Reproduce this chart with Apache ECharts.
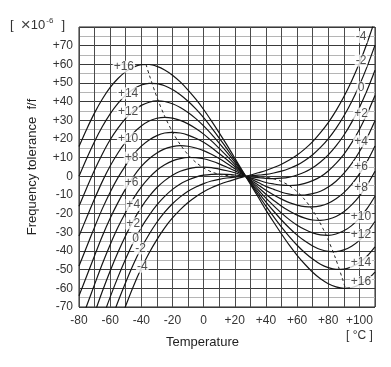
<!DOCTYPE html>
<html><head><meta charset="utf-8">
<script src="https://cdn.jsdelivr.net/npm/echarts@6/dist/echarts.min.js"></script>
<style>html,body{margin:0;padding:0;background:#fff}#c{width:391px;height:367px}</style>
</head><body><div id="c"></div>
<script>
// Temperature samples (°C), every 5 °C from -80 to +110
const temps = [-80,-75,-70,-65,-60,-55,-50,-45,-40,-35,-30,-25,-20,-15,-10,-5,0,5,10,15,20,25,30,35,40,45,50,55,60,65,70,75,80,85,90,95,100,105,110];

// Frequency tolerance (x10^-6) for each curve
const curveM4  = [-145.9,-133.2,-119.6,-105.9,-92.8,-80.6,-69.3,-58.7,-49.3,-41.1,-33.9,-27.6,-22.3,-17.8,-14.0,-10.9,-8.3,-6.1,-4.4,-2.9,-1.6,-0.4,0.7,1.9,3.1,4.7,6.5,8.7,11.4,14.7,18.6,23.4,28.8,35.2,42.6,51.1,60.7,71.6,83.8];
const curveM2  = [-129.4,-117.2,-104.1,-91.1,-78.7,-67.2,-56.7,-46.9,-38.4,-31.0,-24.6,-19.2,-14.7,-11.0,-8.0,-5.7,-3.9,-2.5,-1.6,-0.9,-0.4,-0.1,0.2,0.6,1.0,1.8,2.8,4.2,6.0,8.5,11.6,15.5,20.1,25.7,32.3,40.0,48.8,58.9,70.3];
const curve0   = [-113.0,-101.2,-88.7,-76.3,-64.7,-54.0,-44.2,-35.2,-27.4,-20.9,-15.3,-10.7,-7.0,-4.1,-2.0,-0.4,0.6,1.1,1.2,1.0,0.7,0.2,-0.3,-0.7,-1.1,-1.2,-1.0,-0.4,0.7,2.3,4.6,7.7,11.5,16.3,22.0,28.9,36.9,46.2,56.8];
const curveP2  = [-96.6,-85.3,-73.3,-61.6,-50.7,-40.7,-31.7,-23.5,-16.6,-10.8,-6.0,-2.3,0.6,2.7,4.0,4.8,4.9,4.7,3.9,3.0,1.9,0.5,-0.8,-2.0,-3.3,-4.1,-4.7,-4.9,-4.7,-3.8,-2.3,-0.2,2.9,6.9,11.8,17.9,25.1,33.6,43.3];
const curveP4  = [-80.2,-69.2,-57.9,-46.8,-36.6,-27.3,-19.2,-11.8,-5.7,-0.7,3.3,6.2,8.3,9.5,10.1,10.0,9.4,8.2,6.7,4.9,3.0,0.9,-1.3,-3.3,-5.4,-7.0,-8.5,-9.5,-10.1,-10.0,-9.3,-8.0,-5.7,-2.6,1.6,6.8,13.2,20.8,29.8];
const curveP6  = [-64.0,-53.3,-42.5,-32.0,-22.5,-14.1,-6.6,-0.1,5.3,9.4,12.5,14.7,15.9,16.4,16.1,15.2,13.8,11.8,9.5,6.9,4.1,1.2,-1.8,-4.6,-7.5,-10.0,-12.2,-14.1,-15.4,-16.2,-16.4,-15.8,-14.4,-12.0,-8.7,-4.3,1.3,8.1,16.3];
const curveP8  = [-48.0,-37.6,-27.2,-17.3,-8.5,-0.7,5.9,11.7,16.2,19.5,21.8,23.2,23.6,23.2,22.1,20.4,18.2,15.4,12.2,8.9,5.3,1.5,-2.3,-5.9,-9.6,-12.9,-16.0,-18.6,-20.8,-22.4,-23.4,-23.6,-23.0,-21.5,-19.0,-15.3,-10.6,-4.6,2.7];
const curveP10 = [-32.0,-21.9,-12.0,-2.7,5.5,12.5,18.4,23.3,27.0,29.6,31.1,31.6,31.2,30.0,28.1,25.6,22.6,19.0,15.0,10.8,6.4,1.8,-2.8,-7.2,-11.7,-15.8,-19.7,-23.2,-26.2,-28.5,-30.3,-31.4,-31.6,-30.9,-29.2,-26.4,-22.4,-17.2,-10.7];
const curveP12 = [-16.0,-6.1,3.4,12.0,19.6,25.8,31.0,35.1,38.0,39.7,40.4,40.1,38.9,36.9,34.2,30.9,27.0,22.6,17.8,12.8,7.6,2.2,-3.2,-8.5,-13.8,-18.7,-23.4,-27.7,-31.5,-34.7,-37.3,-39.2,-40.2,-40.3,-39.4,-37.4,-34.3,-29.9,-24.2];
const curveP14 = [0.0,9.7,18.7,26.7,33.5,39.1,43.5,46.8,48.9,49.8,49.7,48.5,46.5,43.7,40.2,36.1,31.4,26.1,20.5,14.7,8.7,2.5,-3.7,-9.8,-16.0,-21.7,-27.2,-32.3,-36.9,-40.9,-44.3,-47.1,-48.9,-49.8,-49.7,-48.5,-46.2,-42.7,-37.8];
const curveP16 = [16.0,25.4,34.0,41.4,47.6,52.4,56.1,58.5,59.8,59.9,58.9,57.0,54.2,50.6,46.2,41.3,35.8,29.7,23.3,16.7,9.8,2.8,-4.2,-11.1,-18.1,-24.6,-30.9,-36.9,-42.3,-47.1,-51.4,-54.9,-57.5,-59.2,-60.0,-59.6,-58.1,-55.4,-51.3];

// Dashed locus of turning points
const extremaT = [-37,-35,-30,-25,-20,-15,-10,-5,0,5,10,15,20,27,34,39,44,49,54,59,64,69,74,79,84,89,91];
const extremaV = [60.0,54.6,42.4,32.2,23.8,17.0,11.6,7.5,4.5,2.4,1.1,0.4,0.1,0,-0.1,-0.4,-1.1,-2.4,-4.5,-7.5,-11.6,-17.0,-23.8,-32.2,-42.4,-54.6,-60.0];

// Curve labels
const curveNames = ['-4','-2','0','+2','+4','+6','+8','+10','+12','+14','+16'];
const curveData  = [curveM4,curveM2,curve0,curveP2,curveP4,curveP6,curveP8,curveP10,curveP12,curveP14,curveP16];

// Label anchors (data units)
const leftLabelT  = [-39.4,-40.5,-43.7,-45.2,-45.2,-46.3,-46.3,-48.5,-48.5,-48.5,-51.2];
const leftLabelV  = [-48.4,-38.6,-33.2,-25.2,-15.4,-3.4,10.0,20.4,34.6,44.5,58.7];
const rightLabelT = 101;
const rightLabelV = [74.6,62.0,47.6,33.6,18.8,5.0,-6.3,-21.8,-31.5,-46.0,-56.6];

const FONT = '"Liberation Sans", Arial, Helvetica, sans-serif';

const series = curveData.map((vals, i) => ({
  type: 'line',
  name: curveNames[i],
  data: temps.map((t, j) => [t, vals[j]]),
  showSymbol: false,
  smooth: 0.3,
  clip: true,
  silent: true,
  lineStyle: { color: '#151515', width: 1.2 },
  z: 3
}));

series.push({
  type: 'line',
  data: extremaT.map((t, j) => [t, extremaV[j]]),
  showSymbol: false,
  smooth: 0.3,
  clip: true,
  silent: true,
  lineStyle: { color: '#222', width: 1, type: [3, 3] },
  z: 3
});

const labelItems = [];
curveNames.forEach((n, i) => {
  labelItems.push({ name: n, value: [leftLabelT[i], leftLabelV[i]] });
  labelItems.push({ name: n, value: [rightLabelT, rightLabelV[i]] });
});

series.push({
  type: 'scatter',
  data: labelItems,
  symbol: 'circle',
  symbolSize: 2,
  itemStyle: { color: 'rgba(255,255,255,0)' },
  silent: true,
  z: 10,
  labelLayout: { hideOverlap: false },
  label: {
    show: true,
    position: 'inside',
    formatter: p => p.name,
    fontFamily: FONT,
    fontSize: 12,
    color: '#222',
    backgroundColor: '#fff',
    padding: [0, 1]
  }
});

const chart = echarts.init(document.getElementById('c'), null, { renderer: 'canvas' });
chart.setOption({
  backgroundColor: '#fff',
  animation: false,
  grid: { left: 79, right: 16, top: 27, bottom: 60, show: true, borderColor: '#222', borderWidth: 1, backgroundColor: 'transparent' },
  xAxis: {
    type: 'value', min: -80, max: 110, interval: 10,
    axisLine: { show: false }, axisTick: { show: false },
    splitLine: { show: true, lineStyle: { color: '#4a4a4a', width: 1 } },
    axisLabel: {
      margin: 8, fontFamily: FONT, fontSize: 12, color: '#333',
      formatter: v => (v % 20 === 0 && v <= 100) ? (v > 0 ? '+' + v : String(v)) : ''
    }
  },
  yAxis: {
    type: 'value', min: -70, max: 80, interval: 5,
    name: 'Frequency tolerance  f/f', nameLocation: 'middle', nameRotate: 90, nameGap: 40,
    nameTextStyle: { fontFamily: FONT, fontSize: 13, color: '#222' },
    axisLine: { show: false }, axisTick: { show: false },
    splitLine: { show: true, lineStyle: { color: ['#3a3a3a', '#b5b5b5'], width: 1 } },
    axisLabel: {
      margin: 6, fontFamily: FONT, fontSize: 12, color: '#333',
      formatter: v => (v % 10 === 0 && v <= 70) ? (v > 0 ? '+' + v : String(v)) : ''
    }
  },
  graphic: [
    { type: 'text', left: 166, top: 336, style: { text: 'Temperature', font: '13px ' + FONT, fill: '#222' } },
    { type: 'text', left: 346, top: 330, style: { text: '[ °C ]', font: '12px ' + FONT, fill: '#333' } },
    { type: 'text', left: 10, top: 17, style: {
        text: '{a|[  }{x|×}{a|10}{s|-6}{a|  ]}',
        rich: { a: { fontFamily: FONT, fontSize: 13, fill: '#333' },
                x: { fontFamily: FONT, fontSize: 17, fill: '#444' },
                s: { fontFamily: FONT, fontSize: 8, fill: '#333', verticalAlign: 'top', padding: [0,1,7,1] } }
      } }
  ],
  series
});
</script></body></html>
